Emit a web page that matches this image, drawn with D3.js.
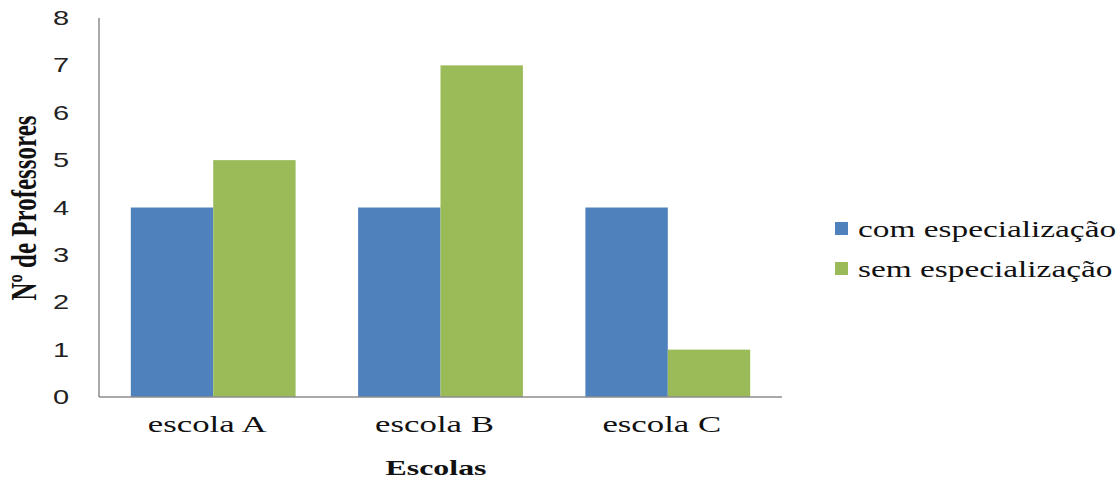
<!DOCTYPE html>
<html>
<head>
<meta charset="utf-8">
<script src="https://cdn.jsdelivr.net/npm/d3@7"></script>
<style>
  html, body { margin: 0; padding: 0; background: #fff; }
  svg { display: block; }
</style>
</head>
<body>
<svg id="chart" width="1118" height="482"></svg>
<script>
// Number of teachers per school, with and without specialization
const escolas = ["escola A", "escola B", "escola C"];
const series = ["com especialização", "sem especialização"];
const comEspecializacao = [4, 4, 4];
const semEspecializacao = [5, 7, 1];
const yTicks = [0, 1, 2, 3, 4, 5, 6, 7, 8];
const colors = ["#4F81BD", "#9BBB59"];

const rows = escolas.map((e, i) => ({
  escola: e,
  values: [comEspecializacao[i], semEspecializacao[i]]
}));

const svg = d3.select("#chart");
const plotLeft = 99, plotRight = 782, plotTop = 18, plotBottom = 397;
const sx = 1.45; // horizontal text stretch

const x0 = d3.scaleBand().domain(escolas).range([plotLeft, plotRight])
  .paddingInner(0.275).paddingOuter(0.14);
const x1 = d3.scaleBand().domain(series).range([0, x0.bandwidth()]);
const y = d3.scaleLinear().domain([0, 8]).range([plotBottom, plotTop]);

// bars
const groups = svg.append("g").selectAll("g").data(rows).join("g")
  .attr("transform", d => `translate(${x0(d.escola)},0)`);
groups.selectAll("rect")
  .data(d => d.values.map((v, k) => ({ s: series[k], v, k })))
  .join("rect")
  .attr("x", d => x1(d.s))
  .attr("width", x1.bandwidth())
  .attr("y", d => y(d.v))
  .attr("height", d => y(0) - y(d.v))
  .attr("fill", d => colors[d.k]);

// axis lines
svg.append("line").attr("x1", plotLeft).attr("x2", plotLeft).attr("y1", y(8)).attr("y2", y(0))
  .attr("stroke", "#8c8c8c").attr("stroke-width", 1.5);
svg.append("line").attr("x1", plotLeft).attr("x2", plotRight).attr("y1", y(0)).attr("y2", y(0))
  .attr("stroke", "#8c8c8c").attr("stroke-width", 1.5);

// y tick labels
svg.append("g").selectAll("text").data(yTicks).join("text")
  .attr("transform", d => `translate(61,${y(d) + 7}) scale(${sx},1)`)
  .attr("text-anchor", "middle")
  .style("font-family", "'Liberation Sans', Arial, sans-serif")
  .style("font-size", "20px")
  .attr("fill", "#222")
  .text(d => d);

// category labels
svg.append("g").selectAll("text").data(escolas).join("text")
  .attr("transform", d => `translate(${x0(d) + x0.bandwidth() / 2 - 6},432) scale(${sx},1)`)
  .attr("text-anchor", "middle")
  .style("font-family", "'Liberation Serif', 'Times New Roman', serif")
  .style("font-size", "24px")
  .attr("fill", "#111")
  .text(d => d);

// x axis title
svg.append("text")
  .attr("transform", `translate(436,475) scale(${sx},1)`)
  .attr("text-anchor", "middle")
  .style("font-family", "'Liberation Serif', 'Times New Roman', serif")
  .style("font-size", "22px")
  .style("font-weight", "bold")
  .attr("fill", "#111")
  .text("Escolas");

// y axis title
svg.append("text")
  .attr("transform", `translate(36,208) scale(${sx},1) rotate(-90)`)
  .attr("text-anchor", "middle")
  .style("font-family", "'Liberation Serif', 'Times New Roman', serif")
  .style("font-size", "25px")
  .style("font-weight", "bold")
  .attr("fill", "#111")
  .text("Nº de Professores");

// legend
const legend = svg.append("g").selectAll("g").data(series).join("g")
  .attr("transform", (d, i) => `translate(835,${222 + i * 40})`);
legend.append("rect").attr("width", 13).attr("height", 13)
  .attr("fill", (d, i) => colors[i]);
legend.append("text")
  .attr("transform", `translate(23,15) scale(${sx},1)`)
  .style("font-family", "'Liberation Serif', 'Times New Roman', serif")
  .style("font-size", "23px")
  .attr("fill", "#111")
  .text(d => d);
</script>
</body>
</html>
